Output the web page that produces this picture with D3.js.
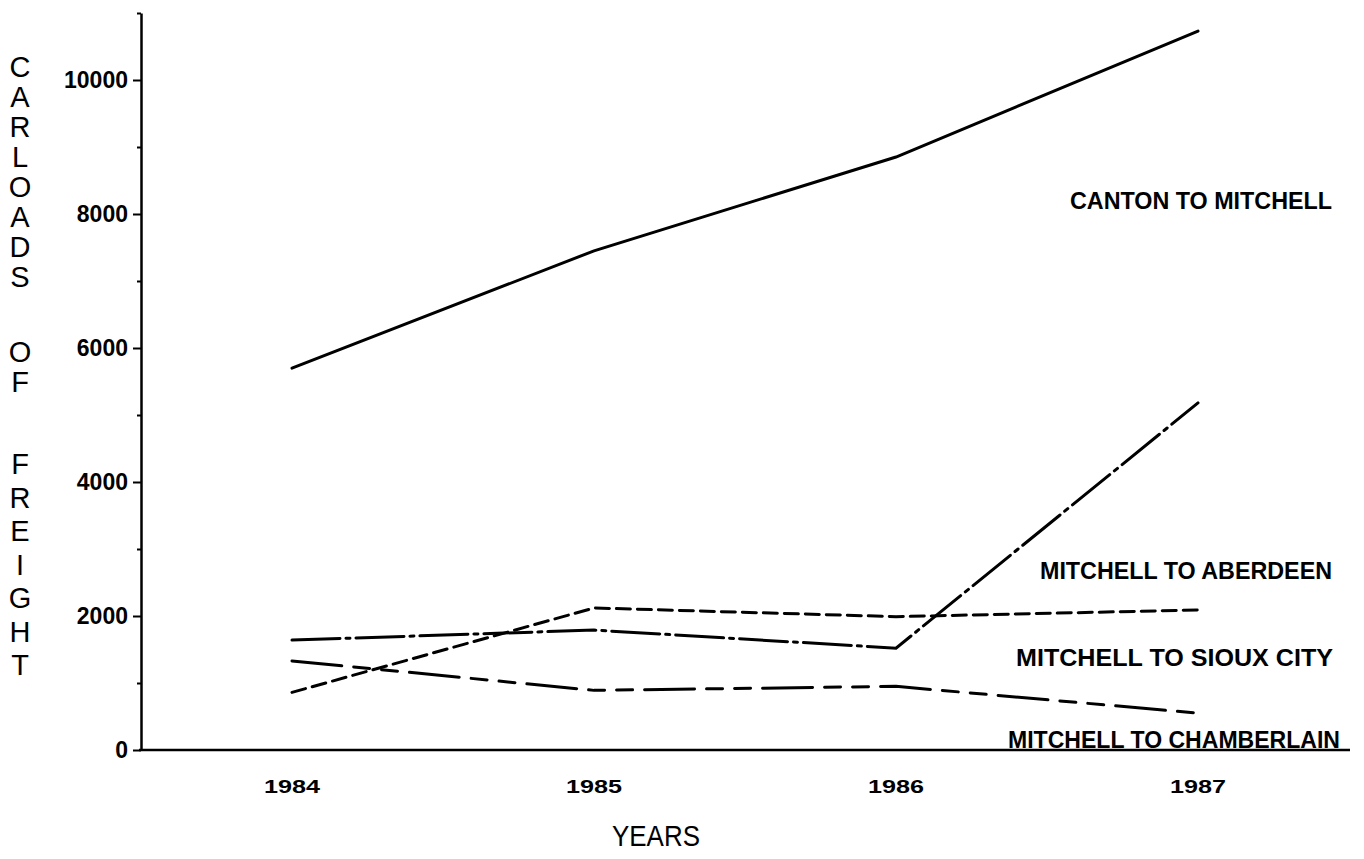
<!DOCTYPE html>
<html><head><meta charset="utf-8">
<script src="https://cdn.jsdelivr.net/npm/d3@7"></script>
<style>body{margin:0;background:#fff}svg{display:block}</style>
</head><body>
<svg id="c" width="1364" height="859"></svg>
<script>
const years = [1984, 1985, 1986, 1987];
const canton = [5700, 7450, 8850, 10730];
const siouxCity = [1640, 1790, 1520, 5180];
const aberdeen = [860, 2120, 1990, 2090];
const chamberlain = [1330, 890, 950, 550];
const seriesNames = ["CANTON TO MITCHELL", "MITCHELL TO ABERDEEN", "MITCHELL TO SIOUX CITY", "MITCHELL TO CHAMBERLAIN"];
const yMajorTicks = [0, 2000, 4000, 6000, 8000, 10000];
const yMinorTicks = [1000, 3000, 5000, 7000, 9000, 11000];
const yTitleWords = ["CARLOADS", "OF", "FREIGHT"];
const xTitle = "YEARS";

const svg = d3.select("#c");
const x = d3.scalePoint().domain(years).range([292, 1198]);
const y = d3.scaleLinear().domain([0, 11000]).range([750, 13]);
const F = "'Liberation Sans', Arial, sans-serif";
const FN = "'Liberation Sans Narrow', 'Liberation Sans', sans-serif";

// y axis
const yAxis = svg.append("g").attr("transform", "translate(141,0)")
  .call(d3.axisLeft(y).tickValues(yMajorTicks).tickSize(8).tickSizeOuter(0).tickFormat(d3.format("d")));
yAxis.select(".domain").attr("stroke-width", 2.5);
yAxis.selectAll(".tick line").attr("stroke-width", 2);
yAxis.selectAll(".tick text").attr("font-family", F)
  .attr("font-weight", "bold").attr("font-size", 23).attr("x", -13).attr("fill", "#000");
svg.append("g").attr("transform", "translate(141,0)")
  .call(d3.axisLeft(y).tickValues(yMinorTicks).tickSize(4).tickFormat(""))
  .call(g => g.select(".domain").remove())
  .selectAll("line").attr("stroke-width", 2);

// x axis
const xAxis = svg.append("g").attr("transform", "translate(0,750)");
xAxis.append("line").attr("x1", 139).attr("x2", 1350).attr("y1", 0).attr("y2", 0)
  .attr("stroke", "#000").attr("stroke-width", 2.5);
xAxis.selectAll("text").data(years).join("text")
  .attr("x", d => x(d)).attr("y", 43).attr("text-anchor", "middle")
  .attr("font-family", F).attr("font-weight", "bold").attr("font-size", 18)
  .attr("textLength", 56).attr("lengthAdjust", "spacingAndGlyphs")
  .text(d => d);

// y title: stacked letters in a single text element
const wordStarts = [77, 362, 474];
const steps = [30, 30, 33.5];
const yt = svg.append("text").attr("font-family", FN).attr("font-size", 29).attr("text-anchor", "middle");
yTitleWords.forEach((w, wi) => {
  w.split("").forEach((ch, ci) => {
    yt.append("tspan").attr("x", 20).attr("y", wordStarts[wi] + ci * steps[wi]).text(ch);
  });
});
svg.append("text").attr("x", 656).attr("y", 846).attr("text-anchor", "middle")
  .attr("font-family", F).attr("font-size", 29)
  .attr("textLength", 88).attr("lengthAdjust", "spacingAndGlyphs").text(xTitle);

// lines
const line = d3.line().x((d, i) => x(years[i])).y(d => y(d));
const series = [
  {v: canton, dash: null},
  {v: aberdeen, dash: "14,7"},
  {v: siouxCity, dash: "48,6,4,6"},
  {v: chamberlain, dash: "50,12,16,12,16,12"}
];
svg.append("g").selectAll("path").data(series).join("path")
  .attr("d", d => line(d.v)).attr("fill", "none").attr("stroke", "#000")
  .attr("stroke-width", 3).attr("stroke-linecap", "round").attr("stroke-dasharray", d => d.dash);

// labels
const labelPos = [[1332, 209, 262], [1332, 579, 292], [1333, 666, 317], [1340, 748, 332]];
svg.append("g").selectAll("text").data(seriesNames).join("text")
  .attr("x", (d, i) => labelPos[i][0]).attr("y", (d, i) => labelPos[i][1])
  .attr("text-anchor", "end")
  .attr("font-family", FN).attr("font-weight", "bold").attr("font-size", 24)
  .attr("textLength", (d, i) => labelPos[i][2]).attr("lengthAdjust", "spacingAndGlyphs")
  .text(d => d);
</script>
</body></html>
